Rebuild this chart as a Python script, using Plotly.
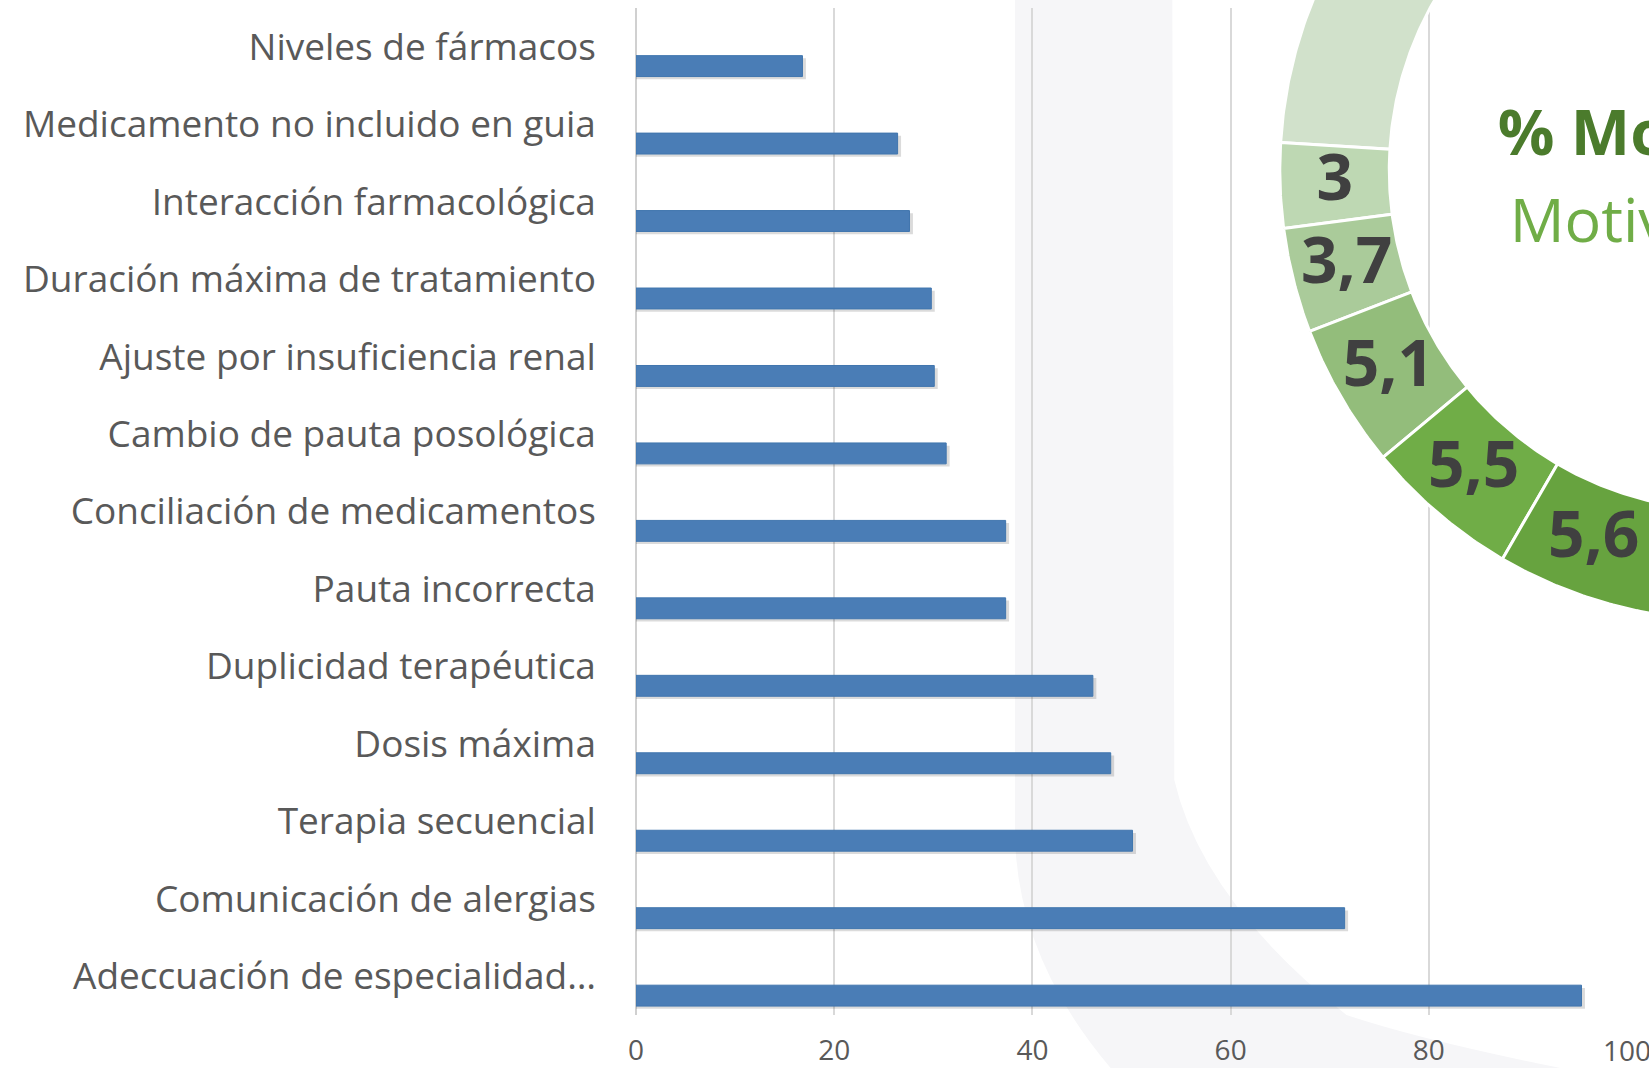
import math
import plotly.graph_objects as go

# ---------------- data ----------------
categories = [
    "Niveles de fármacos",
    "Medicamento no incluido en guia",
    "Interacción farmacológica",
    "Duración máxima de tratamiento",
    "Ajuste por insuficiencia renal",
    "Cambio de pauta posológica",
    "Conciliación de medicamentos",
    "Pauta incorrecta",
    "Duplicidad terapéutica",
    "Dosis máxima",
    "Terapia secuencial",
    "Comunicación de alergias",
    "Adeccuación de especialidad…",
]
values = [16.8, 26.4, 27.6, 29.8, 30.1, 31.3, 37.3, 37.3, 46.1, 47.9, 50.1, 71.5, 95.4]
x_ticks = [0, 20, 40, 60, 80, 100]

donut_values = [15, 3, 3.7, 5.1, 5.5, 5.6]
donut_labels = ["", "3", "3,7", "5,1", "5,5", "5,6"]
donut_colors = ["#d1e1cb", "#bed8b3", "#aacb9a", "#93bd7b", "#70ad47", "#67a33f"]
donut_title = "% Motivos"
donut_subtitle = "Motivos"

# ---------------- layout constants ----------------
W, H = 1649, 1068
LABEL_GREY = "#595959"
FONT = "Open Sans"
PLOT_X0, PLOT_X1 = 631, 1627          # pixel extent of the bar axis (0..100)
X_RANGE = [0, 100]
TICK_Y = 1054                          # pixel row of the x tick labels

# donut geometry in pixels (centre lies off-canvas to the right)
CX, CY = 1728, 170
R_OUT, R_IN = 450, 340
FIRST_BOUNDARY = 176.5      # degrees, boundary between first and second slice
DEG_PER_UNIT = 3.66

fig = go.Figure()

# bar shadow
fig.add_trace(go.Bar(
    y=categories, x=[v + 0.35 for v in values], orientation="h",
    offset=0.15, width=0.27,
    marker=dict(color="rgba(0,0,0,0.14)", line=dict(width=0)),
    hoverinfo="skip", showlegend=False,
))
# bars
fig.add_trace(go.Bar(
    y=categories, x=values, orientation="h",
    offset=0.115, width=0.27,
    marker=dict(color="#4a7db6", line=dict(color="#4176ae", width=1)),
    showlegend=False,
))

# donut slices (pixel overlay axes)
def pt(r, ang):
    a = math.radians(ang)
    return CX + r * math.cos(a), CY - r * math.sin(a)

start = FIRST_BOUNDARY - donut_values[0] * DEG_PER_UNIT
lab_x, lab_y = [], []
for val, lab, col in zip(donut_values, donut_labels, donut_colors):
    a0 = start
    a1 = start + val * DEG_PER_UNIT
    n = max(8, int(abs(a1 - a0) * 2))
    xs, ys = [], []
    for i in range(n + 1):
        x, y = pt(R_OUT, a0 + (a1 - a0) * i / n)
        xs.append(x); ys.append(y)
    for i in range(n + 1):
        x, y = pt(R_IN, a1 - (a1 - a0) * i / n)
        xs.append(x); ys.append(y)
    xs.append(xs[0]); ys.append(ys[0])
    fig.add_trace(go.Scatter(
        x=xs, y=ys, xaxis="x2", yaxis="y2", mode="lines", fill="toself",
        fillcolor=col, line=dict(color="white", width=3),
        hoverinfo="skip", showlegend=False,
    ))
    mx, my = pt((R_OUT + R_IN) / 2, (a0 + a1) / 2)
    lab_x.append(mx); lab_y.append(my)
    start = a1

fig.add_trace(go.Scatter(
    x=lab_x, y=lab_y, text=donut_labels, xaxis="x2", yaxis="y2", mode="text",
    textfont=dict(family=FONT, size=64, color="#404040", weight="bold"),
    hoverinfo="skip", showlegend=False,
))

# centre texts of the donut, clipped by the canvas edge (cliponaxis)
fig.add_trace(go.Scatter(
    x=[1497], y=[139], text=[donut_title], xaxis="x2", yaxis="y2", mode="text",
    textposition="middle right", cliponaxis=True,
    textfont=dict(family=FONT, size=63, color="#4b7b2c", weight="bold"),
    hoverinfo="skip", showlegend=False,
))
fig.add_trace(go.Scatter(
    x=[1509], y=[227], text=[donut_subtitle], xaxis="x2", yaxis="y2", mode="text",
    textposition="middle right", cliponaxis=True,
    textfont=dict(family=FONT, size=61, color="#70ad47"),
    hoverinfo="skip", showlegend=False,
))

# the last x tick label sits on the canvas edge: draw it clipped at the edge
edge_ticks = [t for t in x_ticks if t == X_RANGE[1]]
fig.add_trace(go.Scatter(
    x=[PLOT_X0 + (t - X_RANGE[0]) / (X_RANGE[1] - X_RANGE[0]) * (PLOT_X1 - PLOT_X0) for t in edge_ticks],
    y=[TICK_Y] * len(edge_ticks), text=[str(t) for t in edge_ticks],
    xaxis="x2", yaxis="y2", mode="text", cliponaxis=True,
    textfont=dict(family=FONT, size=28, color=LABEL_GREY),
    hoverinfo="skip", showlegend=False,
))

# faint background watermark (decorative)
def P(x, y):
    return f"{x / W:.5f},{1 - y / H:.5f}"

wm_path = (f"M {P(1012, 0)} L {P(1012, 840)} Q {P(1016, 960)} {P(1108, 1068)} "
           f"L {P(1560, 1068)} Q {P(1420, 1040)} {P(1345, 1015)} Q {P(1200, 900)} {P(1172, 780)} "
           f"L {P(1170, 0)} Z")
fig.add_shape(type="path", path=wm_path, xref="paper", yref="paper",
              fillcolor="#f6f6f8", line=dict(width=0), layer="below")

fig.update_layout(
    width=W, height=H,
    margin=dict(l=0, r=0, t=0, b=0),
    paper_bgcolor="white", plot_bgcolor="rgba(0,0,0,0)",
    barmode="overlay",
    font=dict(family=FONT, color=LABEL_GREY),
    xaxis=dict(
        domain=[PLOT_X0 / W, PLOT_X1 / W], range=X_RANGE,
        tickvals=x_ticks, ticktext=[str(t) for t in x_ticks],
        showgrid=True, gridcolor="#d9d9d9", gridwidth=1.5,
        zeroline=True, zerolinecolor="#d0d0d0", zerolinewidth=2,
        showline=False, ticks="", ticklabelstandoff=16,
        ticklabeloverflow="hide past div",
        tickfont=dict(family=FONT, size=28, color=LABEL_GREY),
        anchor="y",
    ),
    yaxis=dict(
        domain=[1 - 1015 / H, 1 - 8 / H], autorange="reversed",
        type="category", categoryorder="array", categoryarray=categories,
        showgrid=False, zeroline=False, showline=False, ticks="",
        ticklabelstandoff=39,
        tickfont=dict(family=FONT, size=37, color=LABEL_GREY),
        anchor="x",
    ),
    xaxis2=dict(domain=[0, 1], range=[0, W], visible=False, anchor="y2", fixedrange=True),
    yaxis2=dict(domain=[0, 1], range=[H, 0], visible=False, anchor="x2", fixedrange=True),
)

fig.write_html(
    "out.html",
    config={"displayModeBar": False},
    post_script=(
        "document.body.style.margin='0px';"
        "document.body.style.overflow='hidden';"
    ),
)
